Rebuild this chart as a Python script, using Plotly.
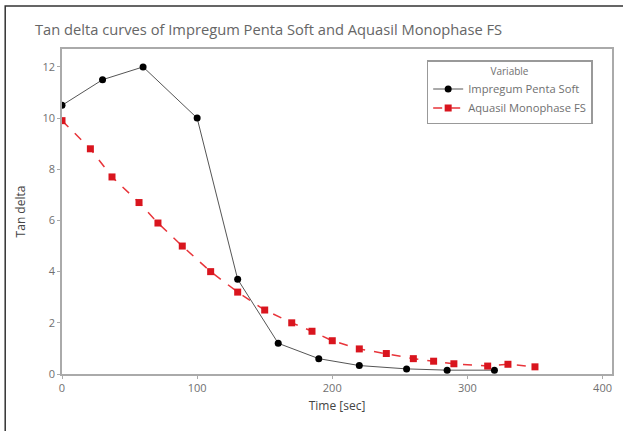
import plotly.graph_objects as go

impregum_time = [0, 30, 60, 100, 130, 160, 190, 220, 255, 285, 320]
impregum_tan = [10.5, 11.5, 12.0, 10.0, 3.7, 1.2, 0.6, 0.33, 0.2, 0.15, 0.15]

aquasil_time = [0, 21, 37, 57, 71, 89, 110, 130, 150, 170, 185, 200, 220, 240, 260, 275, 290, 315, 330, 350]
aquasil_tan = [9.9, 8.8, 7.7, 6.7, 5.9, 5.0, 4.0, 3.2, 2.5, 2.0, 1.67, 1.3, 0.98, 0.8, 0.6, 0.5, 0.4, 0.31, 0.38, 0.28]

x_ticks = [0, 100, 200, 300, 400]
y_ticks = [0, 2, 4, 6, 8, 10, 12]

gray = "#707070"
fig = go.Figure()
fig.add_trace(go.Scatter(
    x=impregum_time, y=impregum_tan, mode="lines+markers",
    name="Impregum Penta Soft",
    line=dict(color="#555555", width=1),
    marker=dict(color="black", size=7, symbol="circle"),
))
fig.add_trace(go.Scatter(
    x=aquasil_time, y=aquasil_tan, mode="lines+markers",
    name="Aquasil Monophase FS",
    line=dict(color="#e8343a", width=1.5, dash="dash"),
    marker=dict(color="#d9151e", size=7, symbol="square"),
))

fig.update_layout(
    width=623, height=431,
    margin=dict(l=62, r=9, t=49, b=57),
    paper_bgcolor="white", plot_bgcolor="white",
    font=dict(family="Open Sans, Arial, sans-serif", size=11, color=gray),
    title=dict(text="Tan delta curves of Impregum Penta Soft and Aquasil Monophase FS",
               x=35/623, xanchor="left", y=1-30/431, yanchor="middle",
               font=dict(size=14.7, color="#666666")),
    showlegend=True,
    legend=dict(
        title=dict(text="Variable", side="top center", font=dict(size=10, color=gray)),
        x=(428-62)/552, y=(374-60)/325, xanchor="left", yanchor="top",
        bordercolor="#999999", borderwidth=1.5, bgcolor="white",
        font=dict(size=11.2, color=gray), tracegroupgap=0, itemwidth=30,
    ),
    xaxis=dict(
        range=[0, 407], tickvals=x_ticks, showgrid=False, zeroline=False,
        showline=True, linecolor="#aaaaaa", linewidth=1.5, mirror=True,
        ticks="outside", ticklen=3, tickcolor="#aaaaaa",
        title=dict(text="Time [sec]", font=dict(size=12, color="#444444"), standoff=8),
    ),
    yaxis=dict(
        range=[0, 12.7], tickvals=y_ticks, showgrid=False, zeroline=False,
        showline=True, linecolor="#aaaaaa", linewidth=1.5, mirror=True,
        ticks="outside", ticklen=3, tickcolor="#aaaaaa",
        title=dict(text="Tan delta", font=dict(size=12, color="#444444"), standoff=14),
    ),
)

# outer frame of the figure (only its left and top edges are inside the image)
fig.add_shape(type="rect", xref="paper", yref="paper",
              x0=(5-62)/552, x1=1.05, y0=-0.25, y1=(374-6)/325,
              line=dict(color="#333333", width=1.5))

fig.write_html("out.html", config={"displayModeBar": False},
               post_script="document.body.style.margin='0';document.body.style.overflow='hidden';")
